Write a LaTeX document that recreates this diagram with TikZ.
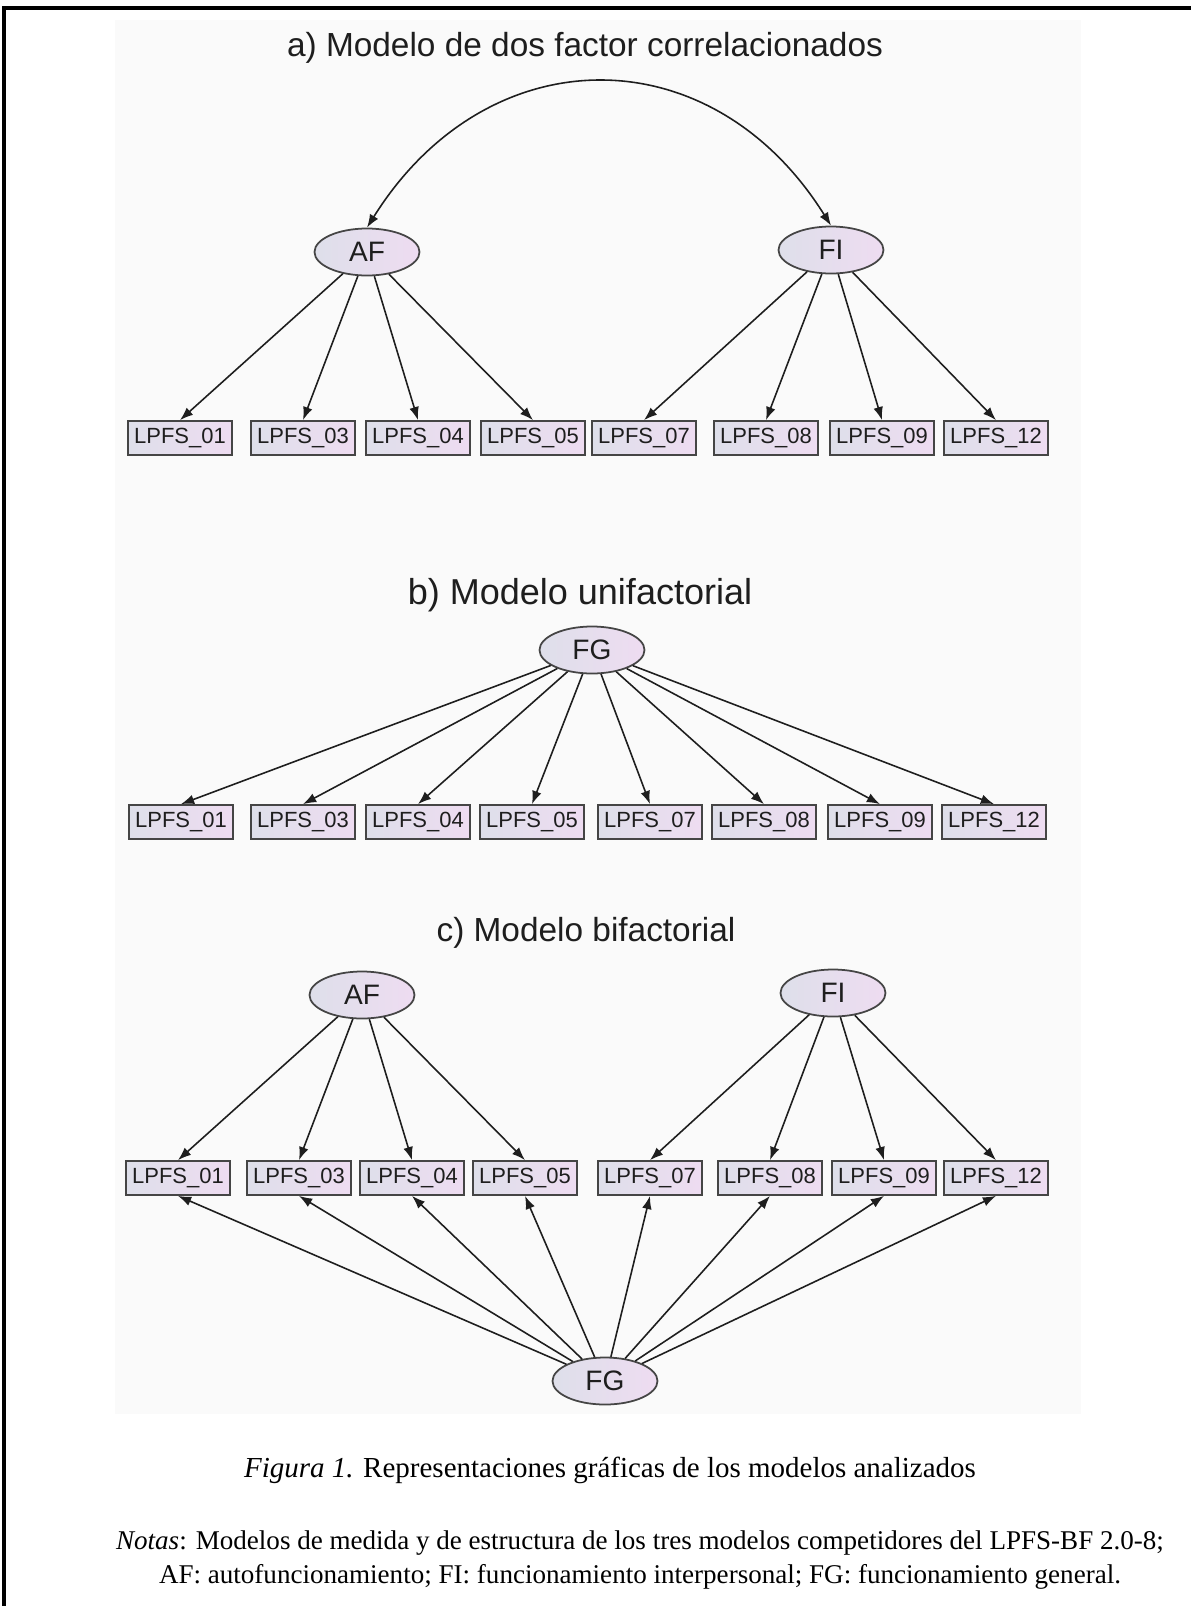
\documentclass[tikz,border=0pt]{standalone}
\usepackage{fontspec}
\setmainfont{Liberation Serif}
\setsansfont{Liberation Sans}
\usepackage{xcolor}
\usetikzlibrary{arrows.meta, shapes.geometric}

\definecolor{boxL}{HTML}{DEDFEA}
\definecolor{boxR}{HTML}{EEDCF1}
\definecolor{edge}{HTML}{454545}
\definecolor{ink}{HTML}{1E1E1E}

\begin{document}
\begin{tikzpicture}[
  >={Latex[length=7.5pt,width=5.5pt]},
  obs/.style={draw=edge, line width=1pt, left color=boxL, right color=boxR,
              minimum width=2.08cm, minimum height=0.68cm, inner sep=0pt,
              text=ink, font=\sffamily\fontsize{12.5}{14}\selectfont},
  lat/.style={ellipse, draw=edge, line width=1pt, left color=boxL, right color=boxR,
              minimum width=2.1cm, minimum height=0.94cm, inner sep=0pt,
              text=ink, font=\sffamily\fontsize{16}{18}\selectfont},
  ttl/.style={text=ink, font=\sffamily\fontsize{19}{22}\selectfont},
  arr/.style={->, line width=0.9pt, draw=ink},
]
\useasboundingbox (0,0) rectangle (23.82,-32.12);
% Frame and diagram background
\fill[black!2] (2.3,-0.4) rectangle (21.62,-28.28);
\draw[line width=2.8pt] (0.08,-32.12) -- (0.08,-0.16) -- (23.82,-0.16);

% a) two correlated factors
\node[ttl] (ta) at (11.7,-0.96) {a) Modelo de dos factor correlacionados};
\node[lat] (AFa) at (7.34,-5.04) {AF};
\node[lat] (FIa) at (16.62,-5.0) {FI};
\node[obs] (a01) at (3.6,-8.76)   {LPFS\_01};
\node[obs] (a03) at (6.06,-8.76)  {LPFS\_03};
\node[obs] (a04) at (8.36,-8.76)  {LPFS\_04};
\node[obs] (a05) at (10.66,-8.76) {LPFS\_05};
\node[obs] (a07) at (12.88,-8.76) {LPFS\_07};
\node[obs] (a08) at (15.32,-8.76) {LPFS\_08};
\node[obs] (a09) at (17.64,-8.76) {LPFS\_09};
\node[obs] (a12) at (19.92,-8.76) {LPFS\_12};
\draw[arr, <->] (AFa.north) .. controls +(2.4,3.84) and +(-2.4,3.84) .. (FIa.north);
\draw[arr] (AFa) -- (a01.north);
\draw[arr] (AFa) -- (a03.north);
\draw[arr] (AFa) -- (a04.north);
\draw[arr] (AFa) -- (a05.north);
\draw[arr] (FIa) -- (a07.north);
\draw[arr] (FIa) -- (a08.north);
\draw[arr] (FIa) -- (a09.north);
\draw[arr] (FIa) -- (a12.north);

% b) one general factor
\node[ttl, font=\sffamily\fontsize{20.5}{23}\selectfont] (tb) at (11.6,-11.9) {b) Modelo unifactorial};
\node[lat] (FGb) at (11.84,-13.0) {FG};
\node[obs] (b01) at (3.62,-16.44)  {LPFS\_01};
\node[obs] (b03) at (6.06,-16.44)  {LPFS\_03};
\node[obs] (b04) at (8.36,-16.44)  {LPFS\_04};
\node[obs] (b05) at (10.64,-16.44) {LPFS\_05};
\node[obs] (b07) at (13.0,-16.44)  {LPFS\_07};
\node[obs] (b08) at (15.28,-16.44) {LPFS\_08};
\node[obs] (b09) at (17.6,-16.44)  {LPFS\_09};
\node[obs] (b12) at (19.88,-16.44) {LPFS\_12};
\draw[arr] (FGb) -- (b01.north);
\draw[arr] (FGb) -- (b03.north);
\draw[arr] (FGb) -- (b04.north);
\draw[arr] (FGb) -- (b05.north);
\draw[arr] (FGb) -- (b07.north);
\draw[arr] (FGb) -- (b08.north);
\draw[arr] (FGb) -- (b09.north);
\draw[arr] (FGb) -- (b12.north);

% c) bifactor: specific factors above, general factor below
\node[ttl] (tc) at (11.72,-18.66) {c) Modelo bifactorial};
\node[lat] (AFc) at (7.24,-19.9)  {AF};
\node[lat] (FIc) at (16.66,-19.86) {FI};
\node[obs] (c01) at (3.56,-23.56)  {LPFS\_01};
\node[obs] (c03) at (5.98,-23.56)  {LPFS\_03};
\node[obs] (c04) at (8.24,-23.56)  {LPFS\_04};
\node[obs] (c05) at (10.5,-23.56)  {LPFS\_05};
\node[obs] (c07) at (13.0,-23.56)  {LPFS\_07};
\node[obs] (c08) at (15.4,-23.56)  {LPFS\_08};
\node[obs] (c09) at (17.68,-23.56) {LPFS\_09};
\node[obs] (c12) at (19.92,-23.56) {LPFS\_12};
\node[lat] (FGc) at (12.1,-27.62) {FG};
\draw[arr] (AFc) -- (c01.north);
\draw[arr] (AFc) -- (c03.north);
\draw[arr] (AFc) -- (c04.north);
\draw[arr] (AFc) -- (c05.north);
\draw[arr] (FIc) -- (c07.north);
\draw[arr] (FIc) -- (c08.north);
\draw[arr] (FIc) -- (c09.north);
\draw[arr] (FIc) -- (c12.north);
\draw[arr] (FGc) -- (c01.south);
\draw[arr] (FGc) -- (c03.south);
\draw[arr] (FGc) -- (c04.south);
\draw[arr] (FGc) -- (c05.south);
\draw[arr] (FGc) -- (c07.south);
\draw[arr] (FGc) -- (c08.south);
\draw[arr] (FGc) -- (c09.south);
\draw[arr] (FGc) -- (c12.south);

% Caption and notes
\node[font=\fontsize{16.5}{19}\selectfont] (cap) at (12.2,-29.4)
  {\textit{Figura 1.} Representaciones gráficas de los modelos analizados};
\node[font=\fontsize{15.4}{19.6}\selectfont, align=center] (notes) at (12.8,-31.2)
  {\textit{Notas}: Modelos de medida y de estructura de los tres modelos competidores del LPFS-BF 2.0-8;\\
   AF: autofuncionamiento; FI: funcionamiento interpersonal; FG: funcionamiento general.};
\end{tikzpicture}
\end{document}
